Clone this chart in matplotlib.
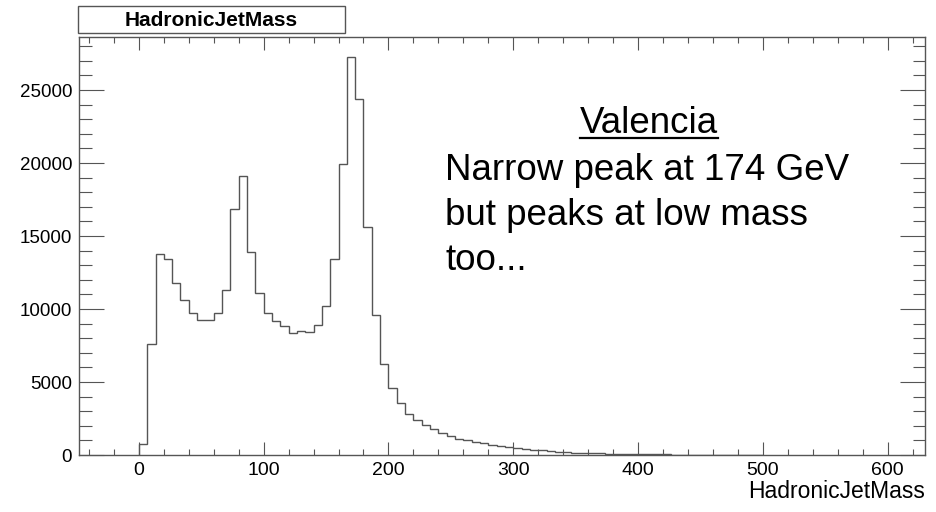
import numpy as np
import matplotlib
matplotlib.use('Agg')
import matplotlib.pyplot as plt
from matplotlib.patches import Rectangle
from matplotlib.lines import Line2D
from matplotlib.ticker import MultipleLocator

plt.rcParams['font.family'] = ['Liberation Sans', 'DejaVu Sans']

# Histogram: 75 bins from 0 to 500
bin_low = 0
bin_high = 500
n_bins = 75
counts = [
    750, 7600, 13740, 13430, 11790, 10630, 9740, 9270, 9270, 9760,
    11280, 16840, 19080, 13900, 11120, 9730, 9180, 8820, 8380, 8480,
    8430, 8930, 10210, 13440, 19940, 27270, 24400, 15650, 9590, 6260,
    4620, 3580, 2820, 2390, 2050, 1780, 1530, 1300, 1120, 1000,
    890, 800, 710, 620, 550, 480, 420, 360, 310, 260,
    220, 190, 160, 140, 120, 105, 90, 80, 70, 60,
    50, 45, 40, 35, 30, 26, 22, 20, 18, 15,
    13, 12, 10, 9, 8,
]
hist_title = 'HadronicJetMass'
x_label = 'HadronicJetMass'
note_head = 'Valencia'
note_lines = ['Narrow peak at 174 GeV', 'but peaks at low mass', 'too...']

edges = np.linspace(bin_low, bin_high, n_bins + 1)

W, H = 936, 512
fig = plt.figure(figsize=(W / 100, H / 100), dpi=100)
ax = fig.add_axes([79 / W, 1 - 455 / H, (925 - 79) / W, (455 - 37) / H])

line_col = '#555555'
ax.stairs(counts, edges, baseline=0, color=line_col, lw=1.0)

ax.set_xlim(-48, 630)
ax.set_ylim(0, 1.05 * max(counts))

# ROOT style ticks on all four sides, pointing in
ax.xaxis.set_major_locator(MultipleLocator(100))
ax.xaxis.set_minor_locator(MultipleLocator(20))
ax.yaxis.set_major_locator(MultipleLocator(5000))
ax.yaxis.set_minor_locator(MultipleLocator(1000))
ax.tick_params(axis='x', which='major', direction='in', length=9.5, width=0.8,
               color=line_col, top=True, labelsize=14, pad=5)
ax.tick_params(axis='x', which='minor', direction='in', length=4.5, width=0.8,
               color=line_col, top=True)
ax.tick_params(axis='y', which='major', direction='in', length=18, width=0.8,
               color=line_col, right=True, labelsize=13.5, pad=5)
ax.tick_params(axis='y', which='minor', direction='in', length=9, width=0.8,
               color=line_col, right=True)
for s in ax.spines.values():
    s.set_color(line_col)
    s.set_linewidth(1.0)

# axis title at bottom right
fig.text(925 / W, 1 - 480 / H, x_label, ha='right', va='top', fontsize=16.5)

# title box, top left
fig.add_artist(Rectangle((78 / W, 1 - 33 / H), (345 - 78) / W, 27 / H,
                         transform=fig.transFigure, facecolor='white',
                         edgecolor=line_col, lw=1.0))
fig.text(211 / W, 1 - 20 / H, hist_title, ha='center', va='center',
         fontsize=15, fontweight='bold')

# annotation
head = fig.text(649 / W, 1 - 133 / H, note_head, ha='center', va='baseline',
                fontsize=26.5)
for i, line in enumerate(note_lines):
    fig.text(445 / W, 1 - (180 + 45 * i) / H, line, ha='left',
             va='baseline', fontsize=26.5)

# underline for the heading
fig.canvas.draw()
bb = head.get_window_extent()
uy = 1 - 138 / H
fig.add_artist(Line2D([bb.x0 / W, bb.x1 / W], [uy, uy], transform=fig.transFigure,
                      color='black', lw=1.6))

fig.savefig('out.png', dpi=100)
